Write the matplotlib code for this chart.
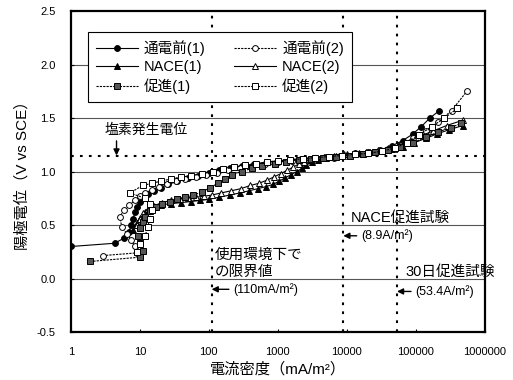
import matplotlib
matplotlib.use("Agg")
import matplotlib.pyplot as plt
from matplotlib.ticker import FixedLocator, NullLocator

plt.rcParams['font.family'] = ['Liberation Sans', 'Noto Sans CJK JP', 'DejaVu Sans']
plt.rcParams['axes.unicode_minus'] = False

# current density (mA/m2) and anode potential (V vs SCE) for each specimen
pre1_i = [1, 4.3, 6, 7, 7.5, 8, 8.5, 9, 10, 11, 13, 16, 20, 26, 35, 50, 70, 100, 140, 200, 300, 450, 700,
          1000, 1500, 2200, 3300, 5000, 8000, 13000, 20000, 30000, 45000, 65000, 90000, 120000, 160000, 220000]
pre1_v = [0.30, 0.33, 0.38, 0.44, 0.50, 0.56, 0.62, 0.67, 0.72, 0.76, 0.79, 0.82, 0.85, 0.88, 0.91, 0.94, 0.96,
          0.99, 1.01, 1.03, 1.05, 1.07, 1.09, 1.10, 1.11, 1.12, 1.13, 1.14, 1.15, 1.17, 1.18, 1.20, 1.24,
          1.29, 1.35, 1.42, 1.50, 1.57]

pre2_i = [2.9, 9, 8.5, 7.5, 6.5, 5.5, 5.1, 6, 7, 8.5, 10, 12, 15, 19, 25, 33, 45, 65, 90, 130, 190, 280, 420,
          650, 1000, 1600, 2500, 4000, 6500, 10000, 16000, 25000, 40000, 60000, 90000, 140000, 210000,
          330000, 550000]
pre2_v = [0.215, 0.24, 0.30, 0.36, 0.42, 0.48, 0.58, 0.64, 0.69, 0.73, 0.77, 0.80, 0.83, 0.86, 0.88, 0.91,
          0.93, 0.95, 0.97, 0.99, 1.01, 1.03, 1.05, 1.07, 1.09, 1.10, 1.11, 1.12, 1.13, 1.15, 1.16, 1.18,
          1.21, 1.25, 1.31, 1.38, 1.46, 1.57, 1.75]

nace1_i = [8, 9, 10, 12, 15, 20, 28, 40, 55, 75, 100, 140, 200, 280, 380, 510, 680, 850, 1050, 1260, 1550,
           1870, 2250, 2600, 3100, 3800, 5000, 7000, 10000, 15000, 22000, 32000, 45000, 65000, 95000,
           140000, 200000, 300000, 480000]
nace1_v = [0.45, 0.52, 0.57, 0.62, 0.66, 0.69, 0.70, 0.71, 0.72, 0.73, 0.74, 0.76, 0.78, 0.80, 0.82, 0.84,
           0.86, 0.88, 0.91, 0.94, 0.97, 1.00, 1.03, 1.06, 1.09, 1.11, 1.13, 1.15, 1.16, 1.17, 1.18, 1.19,
           1.21, 1.23, 1.27, 1.31, 1.35, 1.39, 1.43]

nace2_i = [9, 10, 11, 13, 16, 21, 28, 38, 50, 65, 85, 110, 150, 210, 290, 400, 530, 700, 880, 1100, 1350,
           1650, 2000, 2400, 2900, 3600, 4600, 6500, 9000, 13000, 19000, 28000, 40000, 58000, 85000,
           125000, 180000, 280000, 480000]
nace2_v = [0.50, 0.56, 0.61, 0.65, 0.68, 0.71, 0.73, 0.74, 0.75, 0.76, 0.77, 0.78, 0.80, 0.82, 0.84, 0.87,
           0.89, 0.92, 0.95, 0.98, 1.01, 1.04, 1.07, 1.09, 1.11, 1.13, 1.14, 1.15, 1.16, 1.17, 1.18, 1.20,
           1.22, 1.25, 1.29, 1.34, 1.38, 1.43, 1.48]

acc1_i = [1.9, 10, 11, 10, 9.5, 10, 11, 12, 14, 17, 21, 27, 35, 45, 60, 80, 105, 135, 170, 220, 300, 420,
          600, 900, 1300, 2000, 3000, 4500, 7000, 11000, 17000, 26000, 40000, 60000, 90000, 140000,
          210000, 320000, 450000]
acc1_v = [0.16, 0.20, 0.26, 0.33, 0.40, 0.47, 0.53, 0.58, 0.63, 0.67, 0.70, 0.72, 0.74, 0.76, 0.78, 0.81,
          0.85, 0.89, 0.93, 0.97, 1.00, 1.03, 1.05, 1.07, 1.09, 1.11, 1.12, 1.13, 1.14, 1.15, 1.16, 1.18,
          1.20, 1.23, 1.27, 1.32, 1.37, 1.41, 1.45]

acc2_i = [9, 10, 12, 13, 14, 15, 14, 12, 7.2, 11, 15, 20, 28, 40, 55, 80, 115, 160, 230, 330, 480, 700,
          1000, 1500, 2300, 3500, 5500, 8500, 13000, 20000, 32000, 50000, 75000, 110000, 170000, 260000,
          400000]
acc2_v = [0.25, 0.32, 0.40, 0.48, 0.56, 0.64, 0.70, 0.75, 0.80, 0.87, 0.89, 0.91, 0.93, 0.95, 0.96, 0.98,
          1.00, 1.02, 1.04, 1.06, 1.07, 1.09, 1.10, 1.11, 1.12, 1.13, 1.14, 1.15, 1.16, 1.17, 1.19, 1.22,
          1.27, 1.34, 1.42, 1.50, 1.59]

x_ticks = [1, 10, 100, 1000, 10000, 100000, 1000000]
x_tick_labels = ['1', '10', '100', '1000', '10000', '100000', '1000000']
y_ticks = [-0.5, 0.0, 0.5, 1.0, 1.5, 2.0, 2.5]

chlorine_potential = 1.15
limit_service = 110
limit_nace = 8900
limit_30day = 53400

fig = plt.figure(figsize=(5.13, 3.80), dpi=100)
ax = fig.add_axes([0.138, 0.126, 0.807, 0.845])

ax.set_xscale('log')
ax.set_xlim(1, 1000000)
ax.set_ylim(-0.5, 2.5)

for y in y_ticks[1:-1]:
    ax.axhline(y, color='#555555', lw=0.8, zorder=1)

dot = (0, (1.3, 3.0))
for xv in (limit_service, limit_nace, limit_30day):
    ax.axvline(xv, color='black', lw=1.5, ls=dot, zorder=1.5)
ax.axhline(chlorine_potential, color='black', lw=1.5, ls=dot, zorder=1.5)

ms = 4.2
common = dict(color='black', lw=0.8, ms=ms, mew=0.7, mec='black', zorder=3)
h_pre1, = ax.plot(pre1_i, pre1_v, marker='o', mfc='black', ls='-', label='通電前(1)', **common)
h_pre2, = ax.plot(pre2_i, pre2_v, marker='o', mfc='white', ls=(0, (2, 1)), label='通電前(2)', **common)
h_nace1, = ax.plot(nace1_i, nace1_v, marker='^', mfc='black', ls='-', label='NACE(1)', **common)
h_nace2, = ax.plot(nace2_i, nace2_v, marker='^', mfc='white', ls='-', label='NACE(2)', **common)
h_acc1, = ax.plot(acc1_i, acc1_v, marker='s', mfc='#555555', ls=(0, (2, 1)), label='促進(1)', **common)
h_acc2, = ax.plot(acc2_i, acc2_v, marker='s', mfc='white', ls=(0, (2, 1)), label='促進(2)', **common)

ax.xaxis.set_major_locator(FixedLocator(x_ticks))
ax.xaxis.set_minor_locator(NullLocator())
ax.set_xticklabels(x_tick_labels)
ax.set_yticks(y_ticks)
ax.set_yticklabels([f'{v:.1f}' for v in y_ticks])
ax.tick_params(axis='both', direction='in', length=2.5, width=0.8, labelsize=8)
ax.tick_params(axis='y', pad=11)
ax.tick_params(axis='x', pad=11)

for side in ('left', 'bottom', 'top', 'right'):
    ax.spines[side].set_linewidth(1.6)
    ax.spines[side].set_color('black')

ax.set_xlabel('電流密度（mA/m²）', fontsize=11, labelpad=3)
ax.set_ylabel('陽極電位（V vs SCE）', fontsize=11, labelpad=5)

leg = ax.legend(handles=[h_pre1, h_nace1, h_acc1, h_pre2, h_nace2, h_acc2], ncol=2,
                loc='upper left', bbox_to_anchor=(0.041, 0.935, 0.638, 0), mode='expand',
                borderaxespad=0, fontsize=10.5, frameon=True,
                fancybox=False, edgecolor='black', framealpha=1, borderpad=0.55, handlelength=2.9,
                labelspacing=0.3, handletextpad=0.4)
leg.get_frame().set_linewidth(0.8)
leg.set_zorder(5)

arrow_kw = dict(arrowstyle='-|>', color='black', lw=1.0, mutation_scale=9, shrinkA=1, shrinkB=0)

# chlorine evolution potential
ax.text(3.1, 1.39, '塩素発生電位', fontsize=10, va='center', ha='left', zorder=4)
ax.annotate('', xy=(4.6, chlorine_potential), xytext=(4.6, 1.30), arrowprops=arrow_kw, zorder=4)

# current density limits
ax.text(120, 0.225, '使用環境下で', fontsize=10.5, va='center', ha='left', zorder=4)
ax.text(120, 0.065, 'の限界値', fontsize=10.5, va='center', ha='left', zorder=4)
ax.annotate('(110mA/m²)', xy=(limit_service, -0.10), xytext=(225, -0.10), fontsize=9,
            va='center', ha='left', arrowprops=arrow_kw, zorder=4)

ax.text(11500, 0.57, 'NACE促進試験', fontsize=10.5, va='center', ha='left', zorder=4)
ax.annotate('(8.9A/m²)', xy=(limit_nace, 0.40), xytext=(16000, 0.40), fontsize=9,
            va='center', ha='left', arrowprops=arrow_kw, zorder=4)

ax.text(72000, 0.065, '30日促進試験', fontsize=10.5, va='center', ha='left', zorder=4, clip_on=False)
ax.annotate('(53.4A/m²)', xy=(limit_30day, -0.12), xytext=(98000, -0.12), fontsize=9,
            va='center', ha='left', arrowprops=arrow_kw, zorder=4)

fig.savefig('out.png', dpi=100, facecolor='white')
